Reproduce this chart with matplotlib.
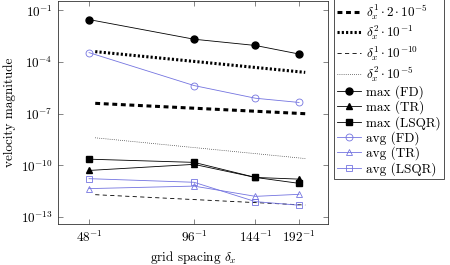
import matplotlib
matplotlib.use('Agg')
import matplotlib.pyplot as plt

plt.rcParams['font.family'] = 'serif'
plt.rcParams['font.serif'] = ['cmr10']
plt.rcParams['mathtext.fontset'] = 'cm'
plt.rcParams['axes.formatter.use_mathtext'] = True
plt.rcParams['font.size'] = 9.5

# grid sizes (x axis is grid spacing 1/n)
n = [48, 96, 144, 192]
h = [1.0 / k for k in n]

max_fd = [2.9e-2, 2.1e-3, 9.1e-4, 2.9e-4]
max_tr = [5.1e-11, 1.15e-10, 2.0e-11, 1.6e-11]
max_lsqr = [2.3e-10, 1.5e-10, 2.0e-11, 9.1e-12]
avg_fd = [3.5e-4, 4.3e-6, 7.9e-7, 4.5e-7]
avg_tr = [4.5e-12, 6.3e-12, 1.6e-12, 2.1e-12]
avg_lsqr = [1.7e-11, 1.05e-11, 7.9e-13, 4.9e-13]

# reference slopes, endpoints at the ends of the drawn range
ref_h = [1.0 / 50, 1.0 / 200]
ref1_a = [4.0e-7, 1.0e-7]
ref2_a = [4.0e-4, 2.5e-5]
ref1_b = [2.0e-12, 5.0e-13]
ref2_b = [4.0e-9, 2.5e-10]

blue = '#7474e0'

fig = plt.figure(figsize=(4.5, 2.65), dpi=100)
ax = fig.add_axes([58 / 450, 41 / 265, 270 / 450, 223 / 265])

ax.plot(ref_h, ref1_a, color='black', lw=2.2, ls=(0, (1.6, 1.2)), label=r'$\delta_x^1\,{\cdot}\,2\,{\cdot}\,10^{-5}$')
ax.plot(ref_h, ref2_a, color='black', lw=2.2, ls=(0, (0.7, 0.7)), label=r'$\delta_x^2\,{\cdot}\,10^{-1}$')
ax.plot(ref_h, ref1_b, color='black', lw=0.6, ls=(0, (5, 4)), label=r'$\delta_x^1\,{\cdot}\,10^{-10}$')
ax.plot(ref_h, ref2_b, color='black', lw=0.5, ls=(0, (1, 2)), label=r'$\delta_x^2\,{\cdot}\,10^{-5}$')

ax.plot(h, max_fd, color='black', lw=0.6, marker='o', ms=5, label='max (FD)')
ax.plot(h, max_tr, color='black', lw=0.6, marker='^', ms=4.5, label='max (TR)')
ax.plot(h, max_lsqr, color='black', lw=0.6, marker='s', ms=4.5, label='max (LSQR)')
ax.plot(h, avg_fd, color=blue, lw=0.6, marker='o', ms=5, mfc='none', mew=0.6, label='avg (FD)')
ax.plot(h, avg_tr, color=blue, lw=0.6, marker='^', ms=4.5, mfc='none', mew=0.6, label='avg (TR)')
ax.plot(h, avg_lsqr, color=blue, lw=0.6, marker='s', ms=4.5, mfc='none', mew=0.6, label='avg (LSQR)')

ax.set_xscale('log')
ax.set_yscale('log')
ax.set_xlim(1.0 / 48 * 10 ** 0.089, 1.0 / 192 / 10 ** 0.083)
ax.set_ylim(10 ** -13.4, 10 ** -0.46)
ax.set_xticks(h)
ax.set_xticklabels([r'$%d^{-1}$' % k for k in n])
ax.set_yticks([1e-1, 1e-4, 1e-7, 1e-10, 1e-13])
ax.minorticks_off()
ax.tick_params(direction='in', top=True, right=True, length=3.5, width=0.5, colors='#555555',
               labelcolor='black', pad=4)
for s in ax.spines.values():
    s.set_linewidth(0.6)
    s.set_color('#333333')

ax.set_xlabel(r'grid spacing $\delta_x$', labelpad=3)
ax.set_ylabel('velocity magnitude', labelpad=3)

leg = fig.legend(loc='upper left', bbox_to_anchor=(334 / 450, 1.003), fancybox=False,
                 edgecolor='#333333', framealpha=1, handlelength=1.8, handletextpad=0.4,
                 labelspacing=0.12, borderpad=0.25, borderaxespad=0, fontsize=9.5)
leg.get_frame().set_linewidth(0.6)

fig.savefig('out.png', dpi=100)
